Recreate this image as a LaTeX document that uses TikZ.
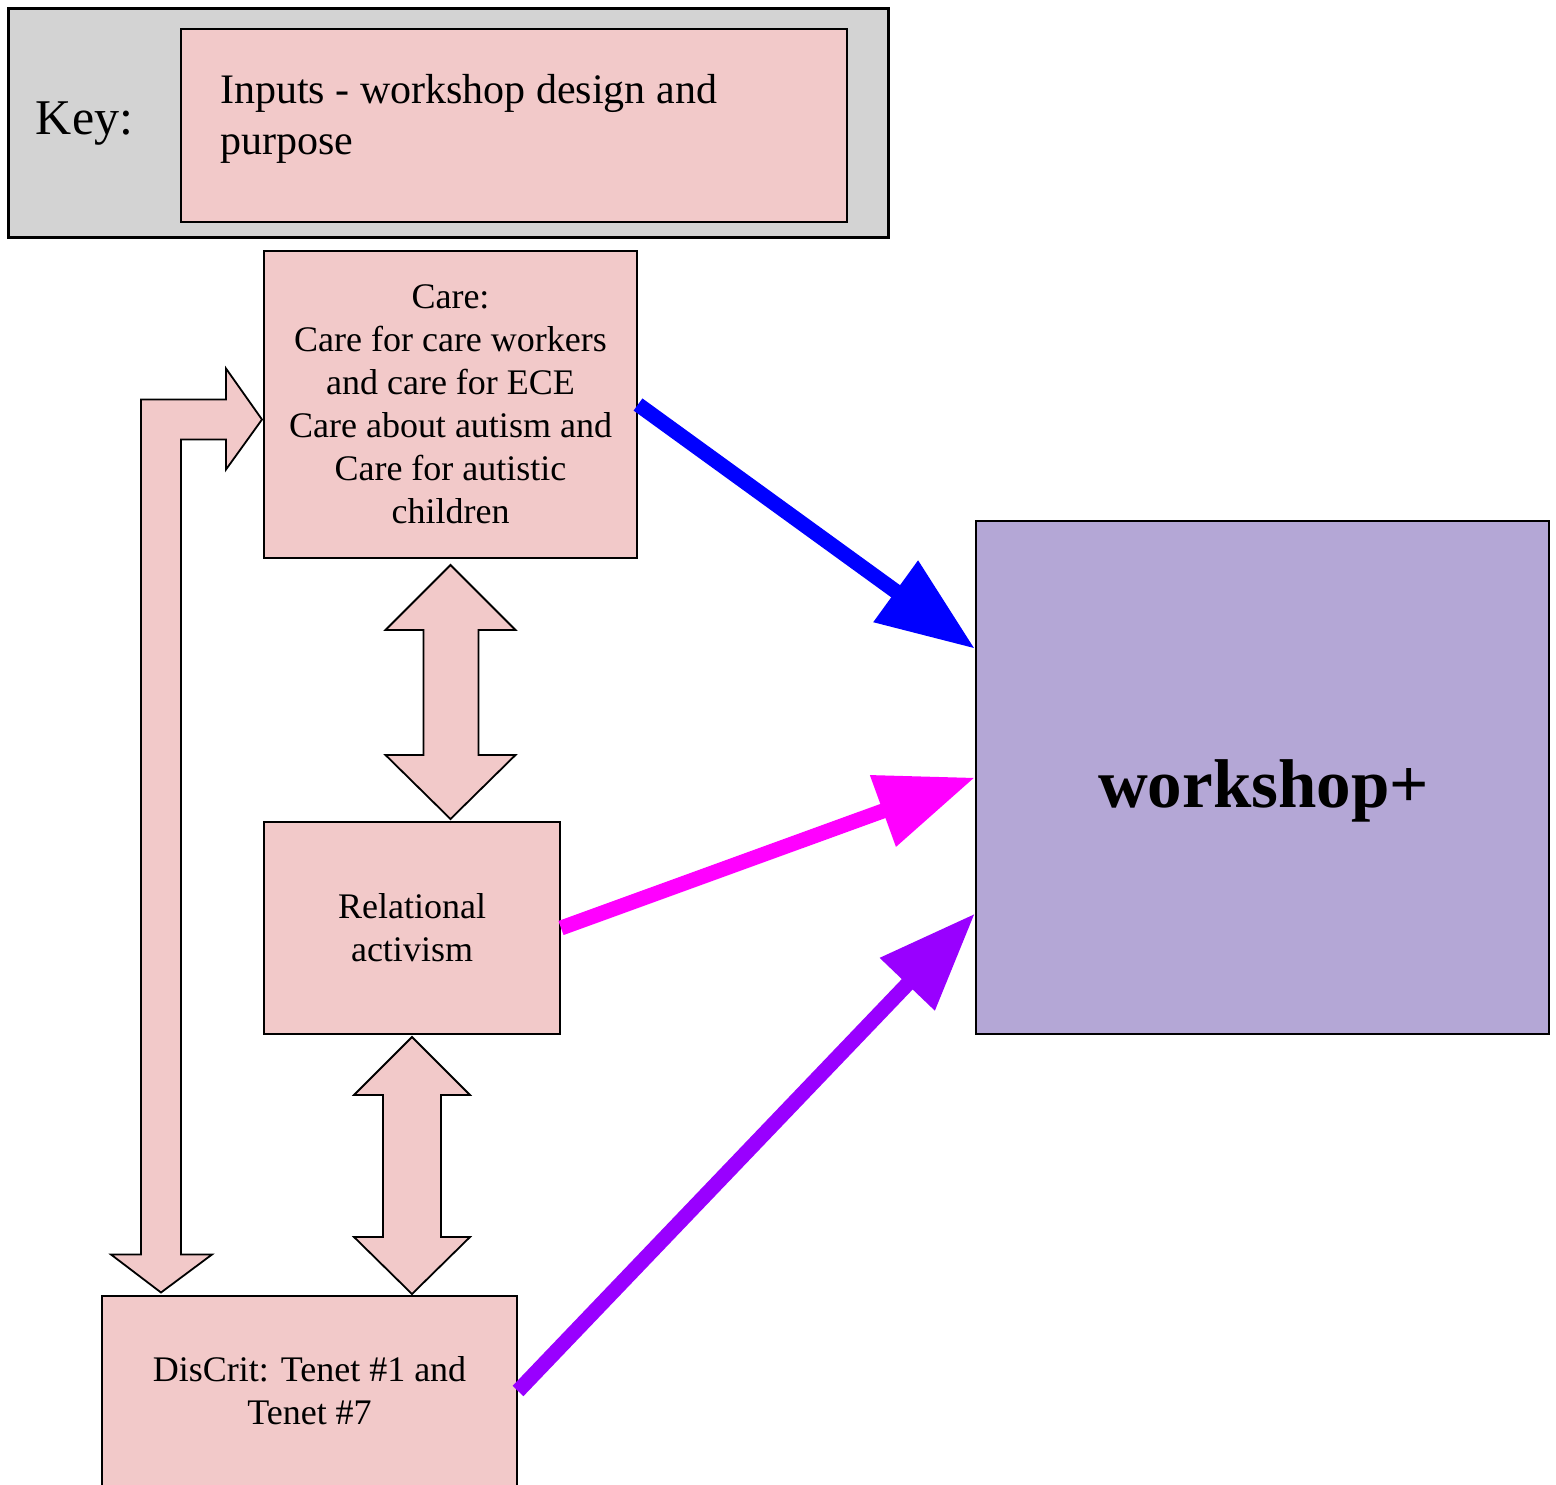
\documentclass[tikz,border=0pt]{standalone}
\usepackage{fontspec}
\setmainfont{Liberation Serif}
\usetikzlibrary{arrows.meta,calc}

\definecolor{keygray}{HTML}{D3D3D3}
\definecolor{inpink}{HTML}{F2C9C9}
\definecolor{wslilac}{HTML}{B4A7D6}
\definecolor{careblue}{HTML}{0000FF}
\definecolor{relmagenta}{HTML}{FF00FF}
\definecolor{critpurple}{HTML}{9900FF}

\begin{document}
\begin{tikzpicture}[x=1pt,y=-1pt,
    box/.style={draw,line width=2pt,fill=inpink,inner sep=0pt,align=center,
      font=\fontsize{36}{43}\selectfont},
    bigarrow/.style={draw,line width=1.8pt,fill=inpink,line join=miter},
    feed/.style={line width=15pt,-{Triangle[length=98pt,width=72pt]}}]

\useasboundingbox (0,0) rectangle (1556,1484);

%% key
\node (keybg) at (448,122.5) [draw,line width=3pt,fill=keygray,minimum width=880pt,minimum height=229pt] {};
\node (keyitem) at (514,125.5) [draw,line width=2.5pt,fill=inpink,minimum width=666pt,minimum height=193pt] {};
\node (keyword) at (84.5,134) [anchor=base,font=\fontsize{50}{60}\selectfont] {Key:};
\node (keytext) at (220,74) [anchor=north west,inner sep=0pt,align=left,font=\fontsize{42}{51}\selectfont] {Inputs - workshop design and\\ purpose};

%% inputs
\node (care) at (450.5,404.5) [box,minimum width=373pt,minimum height=307pt] {Care:\\ Care for care workers\\ and care for ECE\\ Care about autism and\\ Care for autistic\\ children};
\node (rel) at (412,928) [box,minimum width=296pt,minimum height=212pt] {Relational\\ activism};
\node (crit) at (309.5,1391) [box,minimum width=415pt,minimum height=190pt] {DisCrit: Tenet \#1 and\\ Tenet \#7};

%% outcome
\node (ws) at (1262.5,777.5) [draw,line width=2pt,fill=wslilac,minimum width=573pt,minimum height=513pt] {};
\node (wstext) at (1263.5,807) [anchor=base,font=\fontsize{69}{80}\selectfont\bfseries] {workshop+};

%% care <-> relational
\draw[bigarrow] ($(care.south)+(0,6)$) -- ++(65,65) -- ++(-37,0) -- ++(0,125) -- ++(37,0)
  -- ++(-65,64) -- ++(-65,-64) -- ++(38,0) -- ++(0,-125) -- ++(-38,0) -- cycle;
%% relational <-> discrit
\draw[bigarrow] ($(rel.south)+(0,2)$) -- ++(58,58) -- ++(-29,0) -- ++(0,142) -- ++(29,0)
  -- ++(-58,57) -- ++(-58,-57) -- ++(29,0) -- ++(0,-142) -- ++(-29,0) -- cycle;
%% discrit <-> care, round the left
\draw[bigarrow] ($(care.west)+(-1,15)$) -- ++(-36,50) -- ++(0,-30) -- ++(-45,0) -- ++(0,815)
  -- ++(31,0) -- ++(-51,38) -- ++(-50,-38) -- ++(30,0) -- ++(0,-855) -- ++(85,0)
  -- ++(0,-31) -- cycle;

%% into the workshop
\draw[feed,careblue] (care.east) -- ($(ws.north west)!0.25!(ws.south west)$);
\draw[feed,relmagenta] (rel.east) -- (ws.west);
\draw[feed,critpurple] (crit.east) -- ($(ws.north west)!0.764!(ws.south west)$);

\end{tikzpicture}
\end{document}
